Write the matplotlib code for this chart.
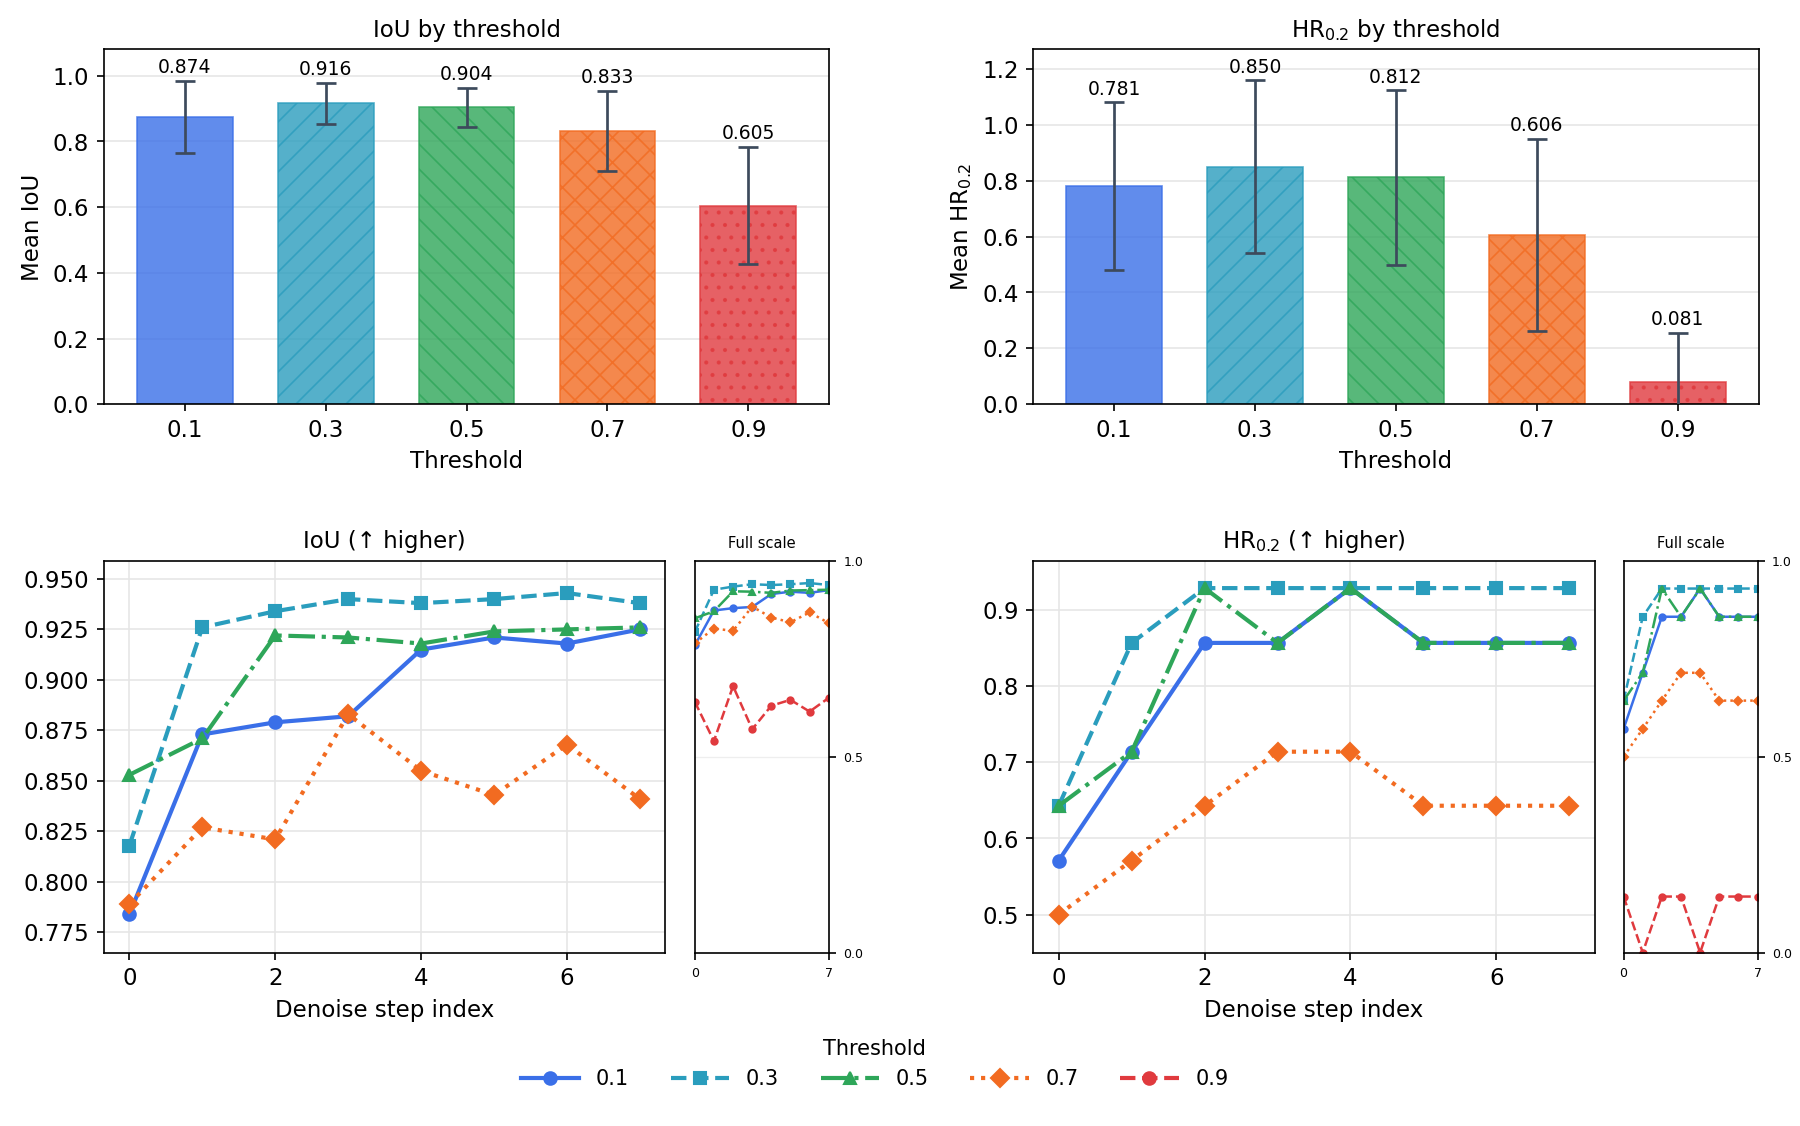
import matplotlib
matplotlib.use("Agg")
import matplotlib.pyplot as plt
import numpy as np

thresholds = ["0.1", "0.3", "0.5", "0.7", "0.9"]
colors = ["#3a6fe8", "#2a9dbd", "#2ea659", "#f26b21", "#e03a3e"]
hatches = ["", "//", "\\\\", "xx", ".."]
markers = ["o", "s", "^", "D", "o"]
styles = ["-", "--", "-.", ":", "--"]

iou_mean = [0.874, 0.916, 0.904, 0.833, 0.605]
iou_err = [0.110, 0.063, 0.060, 0.122, 0.178]
hr_mean = [0.781, 0.850, 0.812, 0.606, 0.081]
hr_err = [0.300, 0.310, 0.312, 0.345, 0.175]

steps = [0, 1, 2, 3, 4, 5, 6, 7]
iou_steps = [
    [0.784, 0.873, 0.879, 0.882, 0.915, 0.921, 0.918, 0.925],
    [0.818, 0.926, 0.934, 0.940, 0.938, 0.940, 0.943, 0.938],
    [0.853, 0.871, 0.922, 0.921, 0.918, 0.924, 0.925, 0.926],
    [0.789, 0.827, 0.821, 0.883, 0.855, 0.843, 0.868, 0.841],
    [0.640, 0.540, 0.680, 0.570, 0.630, 0.645, 0.615, 0.650],
]
hr_steps = [
    [0.571, 0.714, 0.857, 0.857, 0.929, 0.857, 0.857, 0.857],
    [0.643, 0.857, 0.929, 0.929, 0.929, 0.929, 0.929, 0.929],
    [0.643, 0.714, 0.929, 0.857, 0.929, 0.857, 0.857, 0.857],
    [0.500, 0.571, 0.643, 0.714, 0.714, 0.643, 0.643, 0.643],
    [0.143, 0.000, 0.143, 0.143, 0.000, 0.143, 0.143, 0.143],
]

plt.rcParams['font.family'] = ['DejaVu Sans']
plt.rcParams['hatch.linewidth'] = 0.8
fig = plt.figure(figsize=(12, 7.507), dpi=150)

def bar_panel(rect, means, errs, title, ylabel, ylim, yticks):
    ax = fig.add_axes(rect)
    x = np.arange(len(thresholds))
    for i in range(len(x)):
        ax.bar(x[i], means[i], width=0.68, color=colors[i], alpha=0.8,
               hatch=hatches[i], edgecolor=colors[i], linewidth=0.8, zorder=2)
        ax.errorbar(x[i], means[i], yerr=errs[i], color="#3d4a5c", capsize=5,
                    elinewidth=1.3, capthick=1.3, zorder=3)
        ax.text(x[i], means[i] + errs[i] + 0.012, f"{means[i]:.3f}", ha="center",
                va="bottom", fontsize=9)
    ax.set_xticks(x)
    ax.set_xticklabels(thresholds, fontsize=11)
    ax.set_ylim(*ylim)
    ax.set_yticks(yticks)
    ax.tick_params(axis='y', labelsize=11)
    ax.set_xlabel("Threshold", fontsize=11)
    ax.set_ylabel(ylabel, fontsize=11)
    ax.set_title(title, fontsize=11)
    ax.grid(axis='y', color="#e6e6e6", linewidth=0.8, zorder=0)
    ax.set_axisbelow(True)
    return ax

bar_panel([0.0577, 0.641, 0.403, 0.315], iou_mean, iou_err, "IoU by threshold",
          "Mean IoU", (0, 1.08), np.arange(0, 1.01, 0.2))
bar_panel([0.574, 0.641, 0.403, 0.315], hr_mean, hr_err, r"HR$_{0.2}$ by threshold",
          r"Mean HR$_{0.2}$", (0, 1.27), np.arange(0, 1.21, 0.2))

def line_panel(rect, inset_rect, data, title, ylim, yticks, fmt):
    ax = fig.add_axes(rect)
    for i in range(4):
        ax.plot(steps, data[i], color=colors[i], marker=markers[i], linestyle=styles[i],
                linewidth=2, markersize=6)
    ax.set_ylim(*ylim)
    ax.set_yticks(yticks)
    ax.set_yticklabels([fmt.format(v) for v in yticks])
    ax.set_xlim(-0.35, 7.35)
    ax.set_xticks([0, 2, 4, 6])
    ax.tick_params(labelsize=11)
    ax.grid(True, color="#e6e6e6", linewidth=0.8)
    ax.set_xlabel("Denoise step index", fontsize=11)
    ax.set_title(title, fontsize=11)
    ins = fig.add_axes(inset_rect)
    for i in range(5):
        ins.plot(steps, data[i], color=colors[i], marker=markers[i], linestyle=styles[i],
                 linewidth=1.2, markersize=3)
    ins.set_xlim(0, 7)
    ins.set_ylim(0, 1)
    ins.set_xticks([0, 7])
    ins.set_yticks([0, 0.5, 1.0])
    ins.yaxis.tick_right()
    ins.tick_params(labelsize=6)
    ins.grid(axis='y', color="#eeeeee", linewidth=0.6)
    ins.set_title("Full scale", fontsize=7)

line_panel([0.0577, 0.154, 0.312, 0.348], [0.386, 0.154, 0.0744, 0.348], iou_steps,
           "IoU (↑ higher)", (0.765, 0.959), [0.775, 0.8, 0.825, 0.85, 0.875, 0.9, 0.925, 0.95],
           "{:.3f}")
line_panel([0.574, 0.154, 0.312, 0.348], [0.902, 0.154, 0.0744, 0.348], hr_steps,
           r"HR$_{0.2}$ (↑ higher)", (0.45, 0.965), [0.5, 0.6, 0.7, 0.8, 0.9], "{:.1f}")

handles = [plt.Line2D([], [], color=colors[i], marker=markers[i], linestyle=styles[i],
                      linewidth=2, markersize=6) for i in range(5)]
fig.legend(handles, thresholds, loc="center", bbox_to_anchor=(0.486, 0.055), ncol=5,
           frameon=False, title="Threshold", fontsize=10, title_fontsize=10,
           handlelength=2.8, columnspacing=2.0)

fig.savefig("out.png", dpi=150)
